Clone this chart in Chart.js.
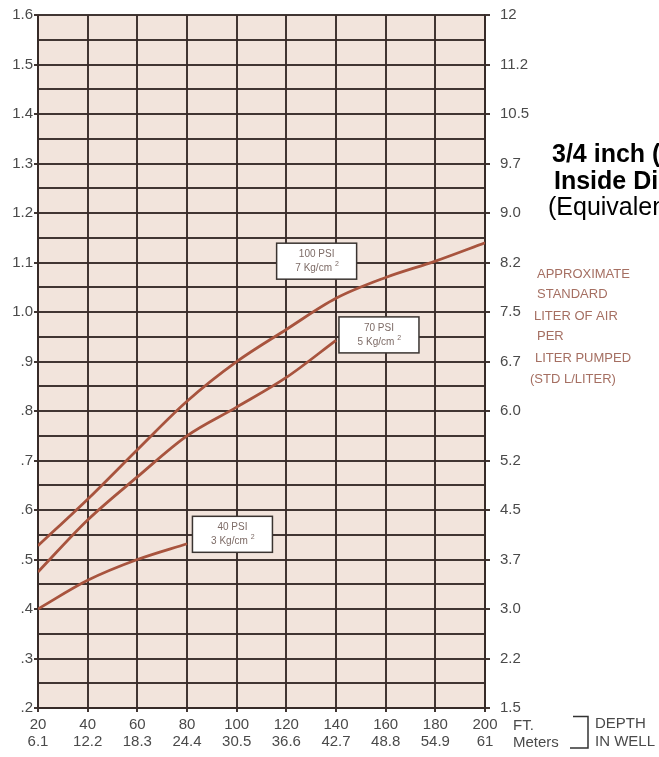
<!DOCTYPE html>
<html>
<head>
<meta charset="utf-8">
<script src="https://cdn.jsdelivr.net/npm/chart.js@4.4.0/dist/chart.umd.min.js"></script>
<style>
  html, body { margin: 0; padding: 0; background: #fff; }
  #wrap { position: relative; width: 659px; height: 757px; }
</style>
</head>
<body>
<div id="wrap"><canvas id="chart"></canvas></div>
<script>
// depth in well
const depthFt = [20, 40, 60, 80, 100, 120, 140, 160, 180, 200];
const depthM = ["6.1", "12.2", "18.3", "24.4", "30.5", "36.6", "42.7", "48.8", "54.9", "61"];

// std liter of air per liter pumped
const psi100 = [0.528, 0.622, 0.722, 0.82, 0.90, 0.965, 1.028, 1.07, 1.103, 1.14];
const psi70 = [0.475, 0.58, 0.667, 0.75, 0.808, 0.868, 0.943];
const psi40 = [0.40, 0.458, 0.50, 0.532];

const leftLabels = [".2", ".3", ".4", ".5", ".6", ".7", ".8", ".9", "1.0", "1.1", "1.2", "1.3", "1.4", "1.5", "1.6"];
const rightLabels = ["1.5", "2.2", "3.0", "3.7", "4.5", "5.2", "6.0", "6.7", "7.5", "8.2", "9.0", "9.7", "10.5", "11.2", "12"];

const curveNames = ["100 PSI", "70 PSI", "40 PSI"];
const curveUnits = ["7 Kg/cm", "5 Kg/cm", "3 Kg/cm"];
// where the label boxes sit (ft, value)
const boxAt = [[132.2, 1.103], [157.3, 0.954], [98.3, 0.551]];

const LINE = "#a8543e";
const GRID = "rgba(55, 43, 40, 0.95)";
const FONT = "'Liberation Sans', Arial, sans-serif";

function pts(vals) {
  return vals.map((v, i) => ({ x: depthFt[i], y: v }));
}

// 0.05 steps -> label only on the tenths
function tenthIndex(value) {
  const k = Math.round(value * 20);
  if (k % 2 !== 0) return -1;
  return Math.round((value - 0.2) * 10);
}

const bgPlugin = {
  id: "bg",
  beforeDraw(chart) {
    const { ctx, chartArea: a } = chart;
    ctx.save();
    ctx.fillStyle = "#f2e4dc";
    ctx.fillRect(a.left, a.top, a.right - a.left, a.bottom - a.top);
    ctx.restore();
  }
};

const boxPlugin = {
  id: "boxes",
  afterDatasetsDraw(chart) {
    const { ctx, scales } = chart;
    ctx.save();
    boxAt.forEach(([fx, fy], i) => {
      const cx = scales.x.getPixelForValue(fx);
      const cy = scales.y.getPixelForValue(fy);
      const w = 80, h = 36;
      ctx.fillStyle = "#fff";
      ctx.fillRect(cx - w / 2, cy - h / 2, w, h);
      ctx.strokeStyle = "#3a3431";
      ctx.lineWidth = 1.5;
      ctx.strokeRect(cx - w / 2, cy - h / 2, w, h);
      ctx.fillStyle = "#7d6b66";
      ctx.textAlign = "center";
      ctx.textBaseline = "middle";
      ctx.font = "10px " + FONT;
      ctx.fillText(curveNames[i], cx, cy - 7);
      ctx.fillText(curveUnits[i], cx - 3, cy + 7);
      const uw = ctx.measureText(curveUnits[i]).width;
      ctx.font = "7px " + FONT;
      ctx.fillText("2", cx - 3 + uw / 2 + 5, cy + 3);
    });
    ctx.restore();
  }
};

const sidePlugin = {
  id: "side",
  afterDraw(chart) {
    const ctx = chart.ctx;
    ctx.save();
    ctx.textAlign = "left";
    ctx.textBaseline = "alphabetic";
    ctx.fillStyle = "#000";
    ctx.font = "bold 25px " + FONT;
    ctx.fillText("3/4 inch (19 mm)", 552, 162);
    ctx.fillText("Inside Diameter", 554, 189);
    ctx.font = "25px " + FONT;
    ctx.fillText("(Equivalent)", 548, 215);

    ctx.fillStyle = "#a56f62";
    ctx.font = "13px " + FONT;
    ctx.fillText("APPROXIMATE", 537, 278);
    ctx.fillText("STANDARD", 537, 298);
    ctx.fillText("LITER OF AIR", 534, 320);
    ctx.fillText("PER", 537, 340);
    ctx.fillText("LITER PUMPED", 535, 362);
    ctx.fillText("(STD L/LITER)", 530, 383);

    ctx.fillStyle = "#4a4a4a";
    ctx.font = "15px " + FONT;
    ctx.textBaseline = "middle";
    ctx.fillText("FT.", 513, 726);
    ctx.fillText("Meters", 513, 743);
    ctx.fillText("DEPTH", 595, 724);
    ctx.fillText("IN WELL", 595, 742);

    ctx.strokeStyle = "#333";
    ctx.lineWidth = 1.5;
    ctx.beginPath();
    ctx.moveTo(573, 716.5);
    ctx.lineTo(588, 716.5);
    ctx.lineTo(588, 748);
    ctx.lineTo(570, 748);
    ctx.stroke();
    ctx.restore();
  }
};

const tickCol = (c) => (c.tick && tenthIndex(c.tick.value) >= 0 ? GRID : "rgba(0,0,0,0)");

new Chart(document.getElementById("chart"), {
  type: "line",
  data: {
    datasets: [
      { label: "100 PSI", data: pts(psi100) },
      { label: "70 PSI", data: pts(psi70) },
      { label: "40 PSI", data: pts(psi40) }
    ]
  },
  options: {
    responsive: true,
    maintainAspectRatio: false,
    animation: false,
    layout: { padding: { top: 14, left: 0, right: 0, bottom: 0 } },
    elements: {
      line: { borderColor: LINE, borderWidth: 2.8, cubicInterpolationMode: "monotone", fill: false },
      point: { radius: 0 }
    },
    plugins: { legend: { display: false }, tooltip: { enabled: false } },
    scales: {
      x: {
        type: "linear",
        min: 20, max: 200,
        afterFit: (s) => { s.height = 49; },
        grid: { color: GRID, lineWidth: 2, tickLength: 4, tickColor: GRID },
        border: { color: GRID, width: 2 },
        ticks: {
          stepSize: 20,
          padding: 5,
          color: "#4a4a4a",
          font: { family: FONT, size: 15, lineHeight: 1.1 },
          maxRotation: 0,
          autoSkip: false,
          callback: (v) => {
            const i = depthFt.indexOf(Math.round(v));
            return i < 0 ? "" : [String(depthFt[i]), depthM[i]];
          }
        }
      },
      y: {
        min: 0.2, max: 1.6,
        afterFit: (s) => { s.width = 38; },
        grid: { color: GRID, lineWidth: 2, tickLength: 4, tickColor: tickCol },
        border: { color: GRID, width: 2 },
        ticks: {
          stepSize: 0.05,
          padding: 1,
          autoSkip: false,
          color: "#4a4a4a",
          font: { family: FONT, size: 15, lineHeight: 0.7 },
          callback: (v) => {
            const i = tenthIndex(v);
            return i < 0 ? "" : leftLabels[i];
          }
        }
      },
      y2: {
        position: "right",
        min: 0.2, max: 1.6,
        afterFit: (s) => { s.width = 174; },
        grid: { drawOnChartArea: false, lineWidth: 2, tickLength: 5, tickColor: tickCol },
        border: { color: GRID, width: 2 },
        ticks: {
          stepSize: 0.05,
          padding: 10,
          autoSkip: false,
          color: "#4a4a4a",
          font: { family: FONT, size: 15, lineHeight: 0.7 },
          callback: (v) => {
            const i = tenthIndex(v);
            return i < 0 ? "" : rightLabels[i];
          }
        }
      }
    }
  },
  plugins: [bgPlugin, boxPlugin, sidePlugin]
});
</script>
</body>
</html>
